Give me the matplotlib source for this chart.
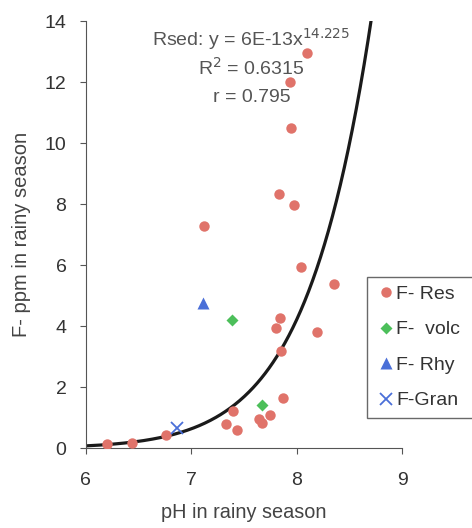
import numpy as np
import matplotlib.pyplot as plt

plt.rcParams['font.family'] = ['Liberation Sans', 'DejaVu Sans']

# F- (ppm) against pH, rainy season samples
res_ph = [8.10, 7.94, 7.95, 7.83, 7.97, 7.12, 8.04, 8.35, 7.84, 7.80, 8.19,
          7.85, 7.87, 7.40, 7.75, 7.64, 7.67, 7.33, 7.43, 6.76, 6.44, 6.20]
res_f = [12.94, 12.01, 10.50, 8.33, 7.97, 7.29, 5.92, 5.37, 4.28, 3.92, 3.80,
         3.18, 1.63, 1.22, 1.09, 0.94, 0.83, 0.78, 0.60, 0.44, 0.16, 0.12]
volc_ph = [7.39, 7.67]
volc_f = [4.19, 1.42]
rhy_ph = [7.11]
rhy_f = [4.75]
gran_ph = [6.86]
gran_f = [0.66]

# power fit y = a * x^b
fit_a = 6e-13
fit_b = 14.225

fig = plt.figure(figsize=(4.72, 5.28), dpi=100)
ax = fig.add_axes([0.182, 0.1515, 0.670, 0.8085])

xs = np.linspace(6, 9, 400)
ys = fit_a * xs ** fit_b
ax.plot(xs, ys, color='#1a1a1a', lw=2.3, zorder=2)

ax.plot(res_ph, res_f, 'o', color='#e0736a', ms=7.5, mec='none', label='F- Res', zorder=3)
ax.plot(volc_ph, volc_f, 'D', color='#4cbf5a', ms=6.5, mec='none', label='F-  volc', zorder=3)
ax.plot(rhy_ph, rhy_f, '^', color='#4a6fd8', ms=8.5, mec='none', label='F- Rhy', zorder=3)
ax.plot(gran_ph, gran_f, 'x', color='#4a6fd8', ms=8, mew=1.3, label='F-Gran', zorder=3)

ax.set_xlim(6, 9)
ax.set_ylim(0, 14)
ax.set_xticks([6, 7, 8, 9])
ax.set_yticks(range(0, 15, 2))
for s in ['top', 'right']:
    ax.spines[s].set_visible(False)
for s in ['left', 'bottom']:
    ax.spines[s].set_color('#555555')
ax.tick_params(colors='#555555', labelcolor='#333333', labelsize=14, length=4)
ax.tick_params(axis='x', pad=13)
ax.tick_params(axis='y', pad=10)

ax.set_xlabel('pH in rainy season', fontsize=14.3, color='#444444', labelpad=10)
ax.set_ylabel('F- ppm in rainy season', fontsize=14.5, color='#444444', labelpad=10)

ax.text(7.57, 13.41, 'Rsed: y = 6E-13x$^{14.225}$', ha='center', va='center',
        fontsize=14, color='#555555')
ax.text(7.57, 12.46, 'R$^2$ = 0.6315', ha='center', va='center', fontsize=14, color='#555555')
ax.text(7.57, 11.51, 'r = 0.795', ha='center', va='center', fontsize=14, color='#555555')

leg = fig.legend(loc='lower left', bbox_to_anchor=(0.778, 0.208, 0.3, 0.265), mode='expand',
                 borderaxespad=0, fontsize=14, frameon=True, fancybox=False,
                 handletextpad=0.05, handlelength=1.0, labelspacing=0.92, borderpad=0.45)
leg.get_frame().set_edgecolor('#444444')
leg.get_frame().set_linewidth(1.0)
for t in leg.get_texts():
    t.set_color('#333333')

fig.savefig('out.png', dpi=100)
